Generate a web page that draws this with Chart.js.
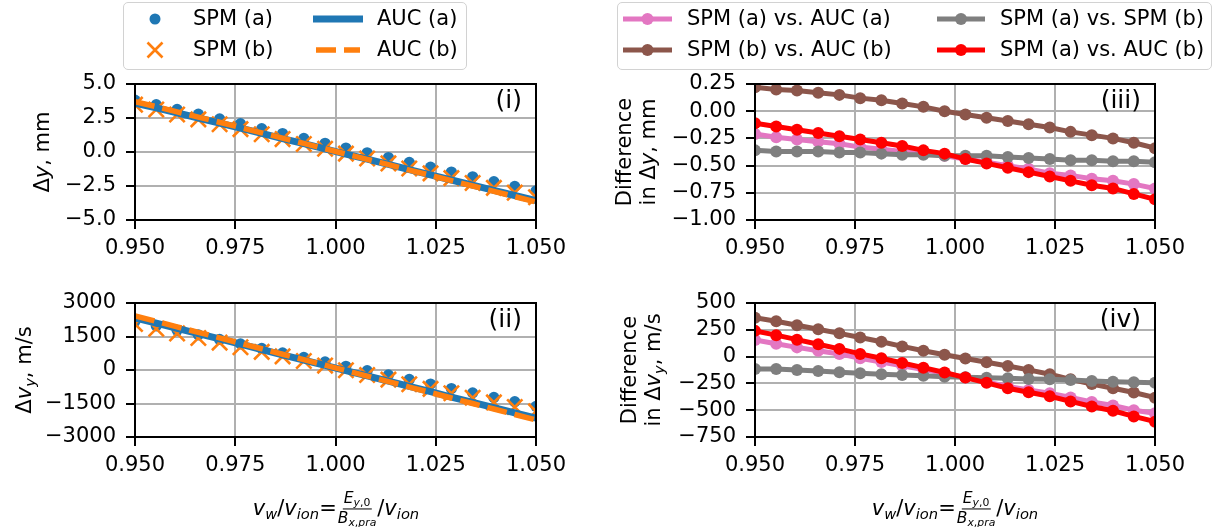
<!DOCTYPE html>
<html><head><meta charset="utf-8">
<script src="https://cdn.jsdelivr.net/npm/chart.js@4.4.1/dist/chart.umd.min.js"></script>
<style>
html,body{margin:0;padding:0;background:#fff;}
body{width:1214px;height:527px;position:relative;overflow:hidden;font-family:"DejaVu Sans",sans-serif;color:#000;}
canvas{position:absolute;}
.t{position:absolute;white-space:nowrap;font-size:21px;line-height:1;}
.leg{position:absolute;box-sizing:border-box;border:1.5px solid #d2d2d2;border-radius:5px;background:#fff;}
.yl{position:absolute;white-space:nowrap;font-size:21px;line-height:24px;text-align:center;transform:translate(-50%,-50%) rotate(-90deg);}
.pl{position:absolute;white-space:nowrap;font-size:25px;line-height:1;transform:translate(-100%,-50%);}
sub{font-size:70%;vertical-align:-0.28em;line-height:0;}
.xl{position:absolute;white-space:nowrap;font-size:21px;transform:translate(-50%,-50%);line-height:1;}
.frac{display:inline-flex;flex-direction:column;align-items:center;vertical-align:middle;font-size:15.5px;margin:0 1px;}
.frac .num{border-bottom:1.3px solid #000;padding:0 1px 1px;line-height:1.1;}
.frac .den{padding-top:1px;line-height:1.1;}
svg{position:absolute;left:0;top:0;}
</style></head><body>
<canvas id="c1"></canvas><canvas id="c2"></canvas><canvas id="c3"></canvas><canvas id="c4"></canvas>

<div class="leg" style="left:123px;top:2px;width:344px;height:68px;"></div>
<div class="leg" style="left:617px;top:2px;width:595px;height:68px;"></div>
<svg width="1214" height="527">
  <circle cx="155" cy="19" r="5.5" fill="#1f77b4"/>
  <path d="M147.5 42.5 L162.5 57.5 M162.5 42.5 L147.5 57.5" stroke="#ff7f0e" stroke-width="2.6" fill="none"/>
  <line x1="313" y1="19" x2="363" y2="19" stroke="#1f77b4" stroke-width="7"/>
  <line x1="316" y1="50" x2="360" y2="50" stroke="#ff7f0e" stroke-width="5.5" stroke-dasharray="20 8"/>
  <line x1="623" y1="19" x2="672" y2="19" stroke="#e377c2" stroke-width="5"/><circle cx="647.5" cy="19" r="6" fill="#e377c2"/>
  <line x1="623" y1="50" x2="672" y2="50" stroke="#8c564b" stroke-width="5"/><circle cx="647.5" cy="50" r="6" fill="#8c564b"/>
  <line x1="937" y1="19" x2="985" y2="19" stroke="#7f7f7f" stroke-width="5"/><circle cx="961" cy="19" r="6" fill="#7f7f7f"/>
  <line x1="937" y1="50" x2="985" y2="50" stroke="#ff0000" stroke-width="5"/><circle cx="961" cy="50" r="6" fill="#ff0000"/>
</svg>
<div class="t" style="left:193px;top:8px;">SPM (a)</div>
<div class="t" style="left:193px;top:39px;">SPM (b)</div>
<div class="t" style="left:377px;top:8px;">AUC (a)</div>
<div class="t" style="left:377px;top:39px;">AUC (b)</div>
<div class="t" style="left:687px;top:8px;">SPM (a) vs. AUC (a)</div>
<div class="t" style="left:687px;top:39px;">SPM (b) vs. AUC (b)</div>
<div class="t" style="left:1000px;top:8px;">SPM (a) vs. SPM (b)</div>
<div class="t" style="left:1000px;top:39px;">SPM (a) vs. AUC (b)</div>

<div class="yl" style="left:42px;top:152px;">Δ<i>y</i>, mm</div>
<div class="yl" style="left:24px;top:370px;">Δ<i>v</i><sub><i>y</i></sub>, m/s</div>
<div class="yl" style="left:636px;top:152px;">Difference<br>in Δ<i>y</i>, mm</div>
<div class="yl" style="left:641px;top:370px;">Difference<br>in Δ<i>v</i><sub><i>y</i></sub>, m/s</div>

<div class="pl" style="left:522px;top:99px;">(i)</div>
<div class="pl" style="left:522px;top:318px;">(ii)</div>
<div class="pl" style="left:1141px;top:99px;">(iii)</div>
<div class="pl" style="left:1141px;top:318px;">(iv)</div>

<div class="xl" style="left:336px;top:509px;"><i>v</i><sub><i>w</i></sub>/<i>v</i><sub><i>ion</i></sub>=<span class="frac"><span class="num"><i>E</i><sub><i>y</i>,0</sub></span><span class="den"><i>B</i><sub><i>x</i>,<i>pra</i></sub></span></span>/<i>v</i><sub><i>ion</i></sub></div>
<div class="xl" style="left:955px;top:509px;"><i>v</i><sub><i>w</i></sub>/<i>v</i><sub><i>ion</i></sub>=<span class="frac"><span class="num"><i>E</i><sub><i>y</i>,0</sub></span><span class="den"><i>B</i><sub><i>x</i>,<i>pra</i></sub></span></span>/<i>v</i><sub><i>ion</i></sub></div>

<script>
// ---- x values (v_w / v_ion) ----
const xVals = [0.9500, 0.9553, 0.9605, 0.9658, 0.9711, 0.9763, 0.9816, 0.9868, 0.9921, 0.9974,
               1.0026, 1.0079, 1.0132, 1.0184, 1.0237, 1.0289, 1.0342, 1.0395, 1.0447, 1.0500];

// ---- tick values and labels ----
const xTickVals = [0.950, 0.975, 1.000, 1.025, 1.050];
const xTickLabels = ['0.950', '0.975', '1.000', '1.025', '1.050'];
const dyTickVals = [-5, -2.5, 0, 2.5, 5];
const dyTickLabels = ['\u22125.0', '\u22122.5', '0.0', '2.5', '5.0'];
const dvTickVals = [-3000, -1500, 0, 1500, 3000];
const dvTickLabels = ['\u22123000', '\u22121500', '0', '1500', '3000'];
const ddyTickVals = [-1.0, -0.75, -0.5, -0.25, 0, 0.25];
const ddyTickLabels = ['\u22121.00', '\u22120.75', '\u22120.50', '\u22120.25', '0.00', '0.25'];
const ddvTickVals = [-750, -500, -250, 0, 250, 500];
const ddvTickLabels = ['\u2212750', '\u2212500', '\u2212250', '0', '250', '500'];

// ---- (i) Δy, mm ----
const spmA_dy = [3.81, 3.48, 3.13, 2.78, 2.43, 2.08, 1.72, 1.36, 1.00, 0.64, 0.29, -0.06, -0.41, -0.77, -1.11, -1.47, -1.82, -2.18, -2.53, -2.86];
const spmB_dy = [3.48, 3.13, 2.76, 2.40, 2.04, 1.68, 1.31, 0.95, 0.59, 0.24, -0.12, -0.48, -0.84, -1.21, -1.57, -1.92, -2.28, -2.64, -2.99, -3.33];
const aucA_dy = [3.60, 3.24, 2.87, 2.50, 2.13, 1.75, 1.37, 0.99, 0.61, 0.23, -0.15, -0.53, -0.91, -1.30, -1.68, -2.06, -2.44, -2.82, -3.20, -3.57];
const aucB_dy = [3.70, 3.33, 2.95, 2.57, 2.19, 1.80, 1.41, 1.02, 0.63, 0.24, -0.15, -0.54, -0.93, -1.33, -1.72, -2.11, -2.50, -2.89, -3.28, -3.67];

// ---- (ii) Δv_y, m/s ----
const spmA_dv = [2180, 1980, 1777, 1574, 1367, 1171, 968, 768, 566, 365, 168, -27, -221, -424, -630, -829, -1023, -1228, -1420, -1627];
const spmB_dv = [2058, 1846, 1638, 1432, 1225, 1018, 813, 611, 406, 198, -11, -222, -431, -640, -844, -1043, -1245, -1451, -1656, -1853];
const aucA_dv = [2335, 2100, 1863, 1628, 1392, 1155, 918, 682, 446, 209, -27, -263, -499, -736, -972, -1210, -1446, -1683, -1920, -2156];
const aucB_dv = [2420, 2176, 1931, 1687, 1442, 1196, 951, 706, 461, 216, -29, -274, -519, -764, -1009, -1255, -1500, -1746, -1991, -2236];

// ---- (iii) difference in Δy, mm ----
const aAvsA_dy = [-0.21, -0.24, -0.26, -0.28, -0.30, -0.33, -0.35, -0.37, -0.39, -0.41, -0.44, -0.47, -0.50, -0.53, -0.57, -0.59, -0.62, -0.64, -0.67, -0.71];
const bBvsB_dy = [0.22, 0.20, 0.19, 0.17, 0.15, 0.12, 0.10, 0.07, 0.04, 0.00, -0.03, -0.06, -0.09, -0.12, -0.15, -0.19, -0.22, -0.25, -0.29, -0.34];
const aSvsS_dy = [-0.36, -0.37, -0.37, -0.37, -0.38, -0.38, -0.39, -0.40, -0.40, -0.41, -0.41, -0.41, -0.42, -0.43, -0.44, -0.45, -0.45, -0.46, -0.46, -0.47];
const aAvsB_dy = [-0.11, -0.14, -0.17, -0.20, -0.23, -0.26, -0.29, -0.32, -0.36, -0.39, -0.44, -0.48, -0.52, -0.56, -0.60, -0.64, -0.68, -0.71, -0.76, -0.81];

// ---- (iv) difference in Δv_y, m/s ----
const aAvsA_dv = [155, 120, 86, 54, 25, -16, -50, -86, -120, -156, -195, -236, -278, -312, -342, -381, -423, -455, -500, -529];
const bBvsB_dv = [362, 330, 293, 255, 217, 178, 138, 95, 55, 18, -18, -52, -88, -124, -165, -212, -255, -295, -335, -383];
const aSvsS_dv = [-116, -116, -125, -134, -147, -156, -165, -172, -178, -187, -193, -197, -203, -209, -212, -218, -228, -234, -240, -243];
const aAvsB_dv = [240, 200, 158, 115, 72, 25, -15, -60, -103, -148, -196, -245, -295, -333, -370, -418, -465, -505, -558, -607];

const C = {blue:'#1f77b4', orange:'#ff7f0e', pink:'#e377c2', brown:'#8c564b', grey:'#7f7f7f', red:'#ff0000'};
const FONT = {family:'DejaVu Sans', size:21};

function pts(ys){ return xVals.map((x,i)=>({x:x, y:ys[i]})); }

const boxPlugin = {
  id:'box',
  afterDatasetsDraw(chart){
    const {ctx, chartArea:a} = chart;
    ctx.save(); ctx.strokeStyle='#000'; ctx.lineWidth=2;
    ctx.strokeRect(a.left, a.top, a.right-a.left, a.bottom-a.top);
    ctx.restore();
  }
};

function topDatasets(spmA, spmB, aucA, aucB){
  return [
    {data:pts(aucB), showLine:true, borderColor:C.orange, borderWidth:5.5, borderDash:[20,8], pointRadius:0, order:0, clip:0},
    {data:pts(aucA), showLine:true, borderColor:C.blue, borderWidth:7, pointRadius:0, order:1, clip:0},
    {data:pts(spmB), showLine:false, pointStyle:'crossRot', pointRadius:10.8, borderColor:C.orange, pointBorderColor:C.orange, pointBorderWidth:2.6, order:2, clip:0},
    {data:pts(spmA), showLine:false, pointStyle:'circle', pointRadius:5.6, backgroundColor:C.blue, pointBackgroundColor:C.blue, pointBorderWidth:0, borderWidth:0, order:3, clip:0}
  ];
}
function lineDs(ys, col, ord){
  return {data:pts(ys), showLine:true, borderColor:col, backgroundColor:col, borderWidth:5,
          pointRadius:6, pointBackgroundColor:col, pointBorderWidth:0, pointStyle:'circle', order:ord, clip:0};
}
function diffDatasets(pink, brown, grey, red){
  return [lineDs(red, C.red, 0), lineDs(grey, C.grey, 1), lineDs(brown, C.brown, 2), lineDs(pink, C.pink, 3)];
}

function makeChart(id, area, colLeft, datasets, yVals, yLabels){
  const cv = document.getElementById(id);
  const W = area.R + 40 - colLeft, H = area.B - area.T + 30 + 45;
  cv.width = W; cv.height = H;
  cv.style.left = colLeft + 'px'; cv.style.top = (area.T - 30) + 'px';
  cv.style.width = W + 'px'; cv.style.height = H + 'px';
  const gridOpts = {color:'#b0b0b0', lineWidth:2, tickColor:'#000', tickWidth:2, tickLength:9, drawTicks:true};
  return new Chart(cv, {
    type:'scatter',
    data:{datasets:datasets},
    options:{
      responsive:false, animation:false, devicePixelRatio:1,
      layout:{padding:{left:0, top:30, right:40, bottom:0}},
      plugins:{legend:{display:false}, tooltip:{enabled:false}},
      scales:{
        x:{type:'linear', min:xTickVals[0], max:xTickVals[xTickVals.length-1],
           afterBuildTicks:s=>{ s.ticks = xTickVals.map(v=>({value:v})); },
           afterFit:s=>{ s.height = 45; },
           ticks:{callback:(v,i)=>xTickLabels[i], color:'#000', font:FONT, padding:7, maxRotation:0, autoSkip:false},
           grid:gridOpts, border:{display:false}},
        y:{type:'linear', min:yVals[0], max:yVals[yVals.length-1],
           afterBuildTicks:s=>{ s.ticks = yVals.map(v=>({value:v})); },
           afterFit:s=>{ s.width = area.L - colLeft; },
           ticks:{callback:(v,i)=>yLabels[i], color:'#000', font:FONT, padding:10, autoSkip:false},
           grid:gridOpts, border:{display:false}}
      }
    },
    plugins:[boxPlugin]
  });
}

makeChart('c1', {L:135, T:84, R:536, B:220}, 0, topDatasets(spmA_dy, spmB_dy, aucA_dy, aucB_dy), dyTickVals, dyTickLabels);
makeChart('c2', {L:135, T:303, R:536, B:437}, 0, topDatasets(spmA_dv, spmB_dv, aucA_dv, aucB_dv), dvTickVals, dvTickLabels);
makeChart('c3', {L:755, T:84, R:1155, B:220}, 600, diffDatasets(aAvsA_dy, bBvsB_dy, aSvsS_dy, aAvsB_dy), ddyTickVals, ddyTickLabels);
makeChart('c4', {L:755, T:303, R:1155, B:437}, 600, diffDatasets(aAvsA_dv, bBvsB_dv, aSvsS_dv, aAvsB_dv), ddvTickVals, ddvTickLabels);
</script>
</body></html>
